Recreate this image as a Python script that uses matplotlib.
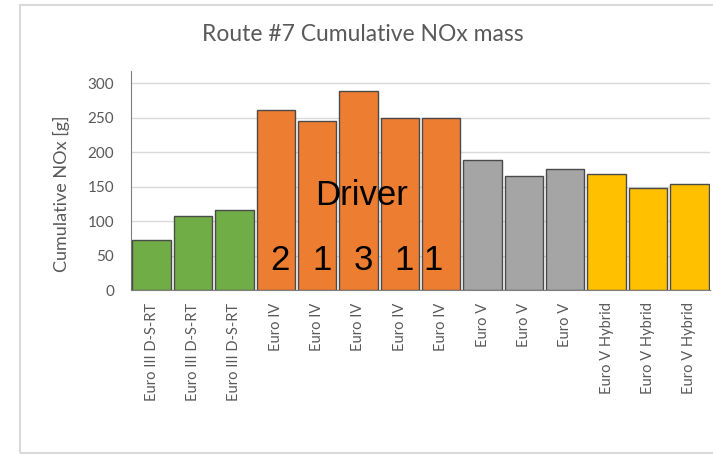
import matplotlib.pyplot as plt
from matplotlib.patches import Rectangle

# data
categories = ["Euro III D-S-RT", "Euro III D-S-RT", "Euro III D-S-RT",
              "Euro IV", "Euro IV", "Euro IV", "Euro IV", "Euro IV",
              "Euro V", "Euro V", "Euro V",
              "Euro V Hybrid", "Euro V Hybrid", "Euro V Hybrid"]
nox_mass = [73, 107, 116, 261, 245, 289, 250, 250, 189, 166, 175, 168, 148, 154]
groups = ["green"] * 3 + ["orange"] * 5 + ["grey"] * 3 + ["yellow"] * 3
driver_ids = ["2", "1", "3", "1", "1"]
driver_bars = [3.1, 4.12, 5.11, 6.1, 6.8]

group_colors = {"green": "#70AD47", "orange": "#ED7D31",
                "grey": "#A5A5A5", "yellow": "#FFC000"}

plt.rcParams["font.family"] = ["Lato", "DejaVu Sans"]

fig = plt.figure(figsize=(7.13, 4.55), dpi=100)
fig.patches.append(Rectangle((20 / 713, 1 - 453 / 455), 1.0, (453 - 5) / 455,
                             transform=fig.transFigure, fill=False,
                             edgecolor="#D9D9D9", linewidth=1.5))
ax = fig.add_axes([131 / 713, 1 - 290 / 455, 579 / 713, 219 / 455])

x = list(range(len(categories)))
ax.bar(x, nox_mass, width=0.93, color=[group_colors[g] for g in groups],
       edgecolor="#4a4a4a", linewidth=1, zorder=3)

ax.set_xlim(-0.5, len(categories) - 0.5)
ax.set_ylim(0, 318)
ax.set_yticks(range(0, 301, 50))
ax.set_xticks(x)
ax.set_xticklabels(categories, rotation=90, fontsize=10.5, color="#595959")
ax.tick_params(axis="y", labelsize=11, colors="#595959", length=0, pad=12)
ax.tick_params(axis="x", length=0, pad=9)
ax.grid(axis="y", color="#D9D9D9", linewidth=1, zorder=0)
for s in ["top", "right"]:
    ax.spines[s].set_visible(False)
ax.spines["left"].set_color("#7f7f7f")
ax.spines["bottom"].set_color("#7f7f7f")
ax.set_ylabel("Cumulative NOx [g]", fontsize=13, color="#595959")
ax.yaxis.set_label_coords(-61 / 579, 0.44)

fig.text(363 / 713, 1 - 41 / 455, "Route #7 Cumulative NOx mass", ha="center",
         va="baseline", fontsize=16.5, color="#595959")

ax.text(5.08, 124, "Driver", fontsize=25, ha="center", va="baseline",
        family="Liberation Sans", zorder=5)
for bx, d in zip(driver_bars, driver_ids):
    ax.text(bx, 29, d, fontsize=25, ha="center", va="baseline",
            family="Liberation Sans", zorder=5)

plt.savefig("out.png", dpi=100)
